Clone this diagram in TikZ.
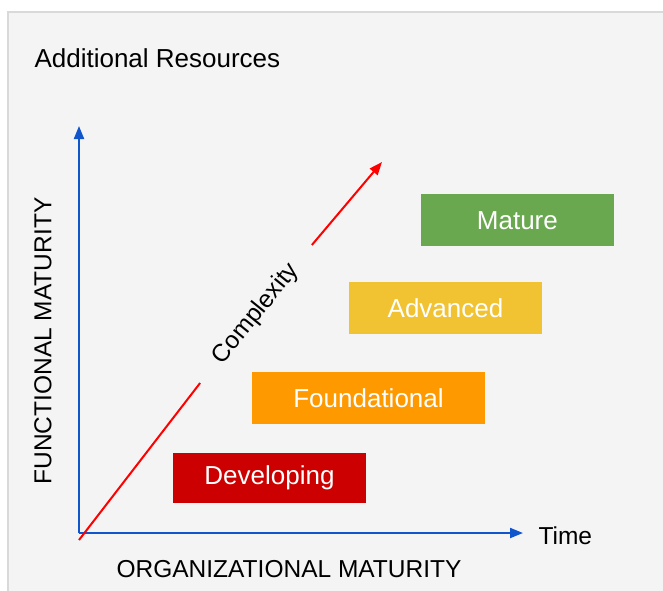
\documentclass[tikz,border=0pt]{standalone}
\usepackage{fontspec}
\setmainfont{Liberation Sans}
\usetikzlibrary{arrows.meta}
\definecolor{panelbg}{HTML}{F4F4F4}
\definecolor{panelline}{HTML}{D9D9D9}
\definecolor{axisblue}{HTML}{1155CC}
\definecolor{devred}{HTML}{CC0000}
\definecolor{foundorange}{HTML}{FF9900}
\definecolor{advyellow}{HTML}{F1C232}
\definecolor{matgreen}{HTML}{6AA84F}

\begin{document}
\begin{tikzpicture}[x=1pt, y=-1pt,
    level/.style={minimum width=193pt, minimum height=52pt, inner sep=0pt,
      text=white, font=\fontsize{26}{30}\selectfont},
    axislabel/.style={font=\fontsize{24.5}{28}\selectfont},
    axisline/.style={axisblue, line width=2pt, -{Triangle[length=13pt,width=10pt]}},
    growline/.style={red, line width=2pt}]
      \useasboundingbox (0,0) rectangle (663,590);
      \fill[white] (0,0) rectangle (663,590);
      \draw[panelline, fill=panelbg, line width=1.5pt] (8,12) rectangle (670,600);
      \node[anchor=base west, font=\fontsize{26}{30}\selectfont] (title) at (31,67) {Additional Resources};
      % axes
      \coordinate (o) at (79,533);
      \coordinate (ytop) at (79,126);
      \coordinate (xend) at (523,533);
      \draw[axisline] (o) -- (ytop);
      \draw[axisline] (o) -- (xend);
      \node[axislabel, anchor=west] (time) at (535,536) {Time};
      \node[axislabel] (orgmat) at (289,569) {ORGANIZATIONAL MATURITY};
      \node[axislabel, rotate=90] (funmat) at (43,341) {FUNCTIONAL MATURITY};
      % complexity
      \coordinate (cs) at (79,540);
      \coordinate (ce) at (382,162);
      \node[axislabel, rotate=51, inner xsep=28pt] (cplx) at (256,314) {Complexity};
      \draw[growline] (cs) -- (cplx.west);
      \draw[growline, -{Triangle[length=13pt,width=10pt]}] (cplx.east) -- (ce);
      % levels
      \node[level, fill=devred, minimum height=50pt] (dev) at (269.5,478) {Developing};
      \node[level, fill=foundorange, minimum width=233pt] (found) at (368.5,398.3) {Foundational};
      \node[level, fill=advyellow] (adv) at (445.5,308.3) {Advanced};
      \node[level, fill=matgreen] (mat) at (517.4,220.3) {Mature};
    \end{tikzpicture}
\end{document}
